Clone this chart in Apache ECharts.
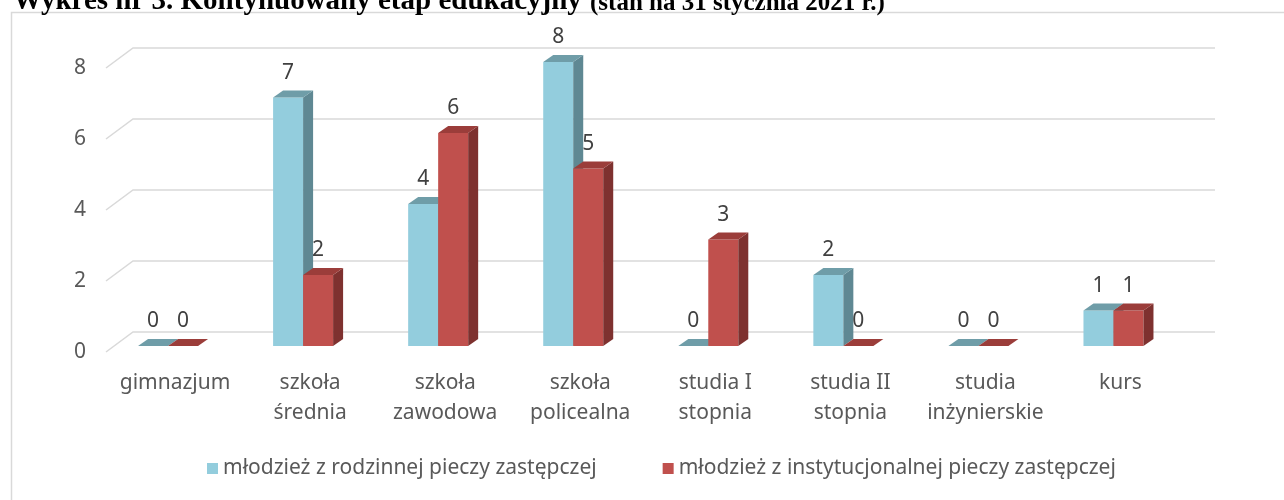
<!DOCTYPE html>
<html>
<head>
<meta charset="utf-8">
<title>Wykres nr 3</title>
<script src="https://cdn.jsdelivr.net/npm/echarts@6/dist/echarts.min.js"></script>
<style>
  html, body { margin: 0; padding: 0; background: #fff; }
  #chart { width: 1284px; height: 500px; }
</style>
</head>
<body>
<div id="chart"></div>
<script>
// dane wykresu
const categories = ['gimnazjum', 'szkoła\nśrednia', 'szkoła\nzawodowa', 'szkoła\npolicealna', 'studia I\nstopnia', 'studia II\nstopnia', 'studia\ninżynierskie', 'kurs']
const seriesNames = ['młodzież z rodzinnej pieczy zastępczej', 'młodzież z instytucjonalnej pieczy zastępczej']
const rodzinna = [0, 7, 4, 8, 0, 2, 0, 1]
const instytucjonalna = [0, 2, 6, 5, 3, 0, 0, 1]
const yTicks = [0, 2, 4, 6, 8]

const FONT = '"Noto Sans", sans-serif'
const TEXT = '#595959'
const GRID_COLOR = '#D9D9D9'

// wygląd słupków 3D (kolor przodu, boku, góry)
const blue = { front: '#93CDDD', side: '#5F8893', top: '#6F9DA8' }
const red = { front: '#C0504D', side: '#7E312F', top: '#9B3D3A' }
const BAR_W = 30
const DEPTH_X = 10
const DEPTH_Y = -7

const chart = echarts.init(document.getElementById('chart'))

// linie siatki na tylnej ścianie + skośne odcinki z lewej
const renderGridLine = (params, api) => {
  const cs = params.coordSys
  const y = api.coord([0, api.value(1)])[1]
  return {
    type: 'polyline',
    shape: { points: [[cs.x + 5.5, y + 6], [cs.x + 32.5, y - 14], [cs.x + cs.width + 34, y - 14]] },
    style: { stroke: GRID_COLOR, lineWidth: 1.5, fill: null },
    silent: true
  }
}

// słupek 3D: przód, bok, góra, etykieta
const makeBar = (offset, c) => (params, api) => {
  const idx = api.value(0)
  const val = api.value(1)
  const p = api.coord([idx, val])
  const b = api.coord([idx, 0])
  const x0 = p[0] + offset - BAR_W / 2
  const x1 = x0 + BAR_W
  const yT = p[1]
  const yB = b[1]
  return {
    type: 'group',
    children: [
      { type: 'rect', shape: { x: x0, y: yT, width: BAR_W, height: yB - yT }, style: { fill: c.front } },
      { type: 'polygon', shape: { points: [[x1, yT], [x1 + DEPTH_X, yT + DEPTH_Y], [x1 + DEPTH_X, yB + DEPTH_Y], [x1, yB]] }, style: { fill: c.side } },
      { type: 'polygon', shape: { points: [[x0, yT], [x0 + DEPTH_X, yT + DEPTH_Y], [x1 + DEPTH_X, yT + DEPTH_Y], [x1, yT]] }, style: { fill: c.top } },
      {
        type: 'text',
        x: x0 + BAR_W / 2,
        y: yT - 24.5,
        style: { text: String(val), align: 'center', verticalAlign: 'middle', fontSize: 21, fontFamily: FONT, fill: '#404040' }
      }
    ]
  }
}

const option = {
  animation: false,
  backgroundColor: '#fff',
  graphic: [
    {
      type: 'text', left: 13, top: -13,
      style: { text: 'Wykres nr 3. Kontynuowany etap edukacyjny', font: 'bold 29px "Liberation Serif", serif', fill: '#000' }
    },
    {
      type: 'text', left: 590, top: -9,
      style: { text: '(stan na 31 stycznia 2021 r.)', font: 'bold 25px "Liberation Serif", serif', fill: '#000' }
    },
    {
      type: 'rect', z: -10, left: 9, top: 10,
      shape: { width: 1300, height: 520 },
      style: { fill: null, stroke: GRID_COLOR, lineWidth: 1.5 }
    }
  ],
  legend: {
    data: seriesNames,
    left: 202,
    top: 453,
    icon: 'rect',
    itemWidth: 11,
    itemHeight: 11,
    itemGap: 66,
    textStyle: { fontSize: 21, fontFamily: FONT, color: TEXT }
  },
  grid: [
    // płaszczyzna słupków
    { left: 100.5, right: 103, top: 62, height: 284 },
    // płaszczyzna przednia (etykiety osi)
    { left: 107.5, right: 96, top: 68, height: 284 }
  ],
  xAxis: [
    { type: 'category', gridIndex: 0, data: categories, show: false },
    {
      type: 'category',
      gridIndex: 1,
      data: categories,
      axisLine: { show: false },
      axisTick: { show: false },
      axisLabel: { margin: 16, fontSize: 21, lineHeight: 30, fontFamily: FONT, color: TEXT, interval: 0 }
    }
  ],
  yAxis: [
    { type: 'value', gridIndex: 0, min: 0, max: 8, interval: 2, show: false },
    {
      type: 'value',
      gridIndex: 1,
      min: 0,
      max: 8,
      interval: 2,
      axisLine: { show: false },
      axisTick: { show: false },
      splitLine: { show: false },
      axisLabel: { margin: 21.5, fontSize: 21, fontFamily: FONT, color: TEXT }
    }
  ],
  series: [
    {
      type: 'custom',
      name: 'siatka',
      xAxisIndex: 0,
      yAxisIndex: 0,
      z: 1,
      silent: true,
      renderItem: renderGridLine,
      data: yTicks.map(v => [0, v])
    },
    {
      type: 'custom',
      name: seriesNames[0],
      xAxisIndex: 0,
      yAxisIndex: 0,
      z: 3,
      itemStyle: { color: blue.front },
      renderItem: makeBar(-15, blue),
      data: rodzinna.map((v, i) => [i, v])
    },
    {
      type: 'custom',
      name: seriesNames[1],
      xAxisIndex: 0,
      yAxisIndex: 0,
      z: 4,
      itemStyle: { color: red.front },
      renderItem: makeBar(15, red),
      data: instytucjonalna.map((v, i) => [i, v])
    }
  ]
}

chart.setOption(option)
</script>
</body>
</html>
